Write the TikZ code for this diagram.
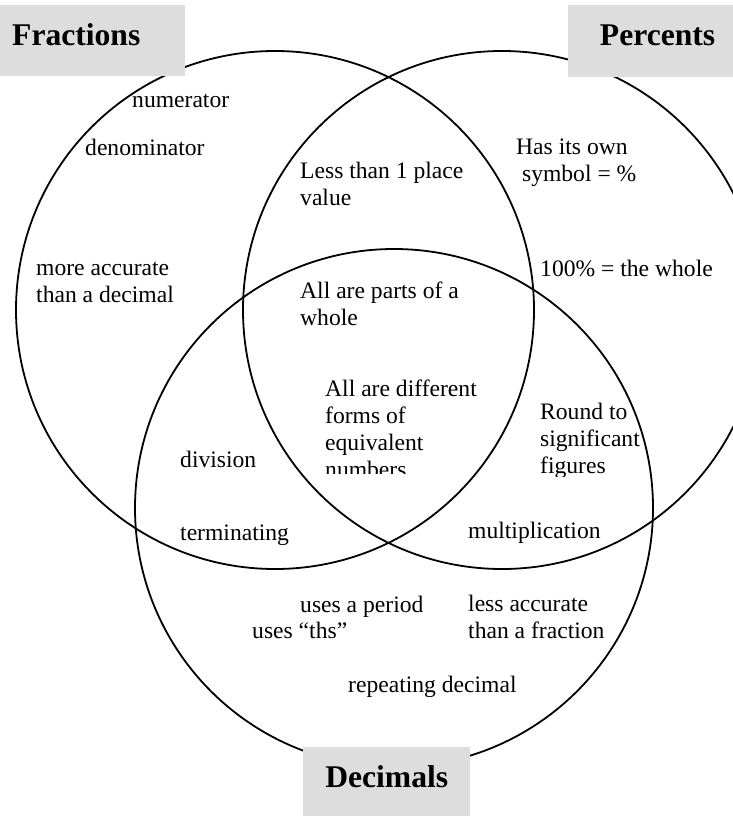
\documentclass[tikz,border=0pt]{standalone}
\usepackage{fontspec}
\setmainfont{Liberation Serif}
\usetikzlibrary{positioning}

\definecolor{tagfill}{HTML}{DDDDDD}

\begin{document}
\begin{tikzpicture}[
    x=1pt, y=-1pt,
    ring/.style={draw, circle, line width=1.8pt, minimum size=518pt, inner sep=0pt},
    tag/.style={fill=tagfill, anchor=north west, inner ysep=0pt,
        font=\fontsize{31.6}{36}\bfseries\selectfont},
    note/.style={anchor=base west, inner sep=0pt, align=left,
        font=\fontsize{23.6}{26.8}\selectfont}
]
\useasboundingbox (0,0) rectangle (733,816);
\clip (0,0) rectangle (733,816);

% the three sets
\node[ring] (frac) at (275,310) {};
\node[ring] (perc) at (502,310) {};
\node[ring] (dec)  at (394,508) {};

% titles
\node[tag, inner xsep=12pt, text width=161pt, align=left,
    text height=40pt, text depth=31pt] (fractag) at (0,5) {Fractions};
\node[tag, inner xsep=18pt, text width=129pt, align=right,
    text height=40pt, text depth=32pt] (perctag) at (568,5) {Percents};
\node[tag, inner xsep=20pt, text width=127pt, align=center,
    text height=40pt, text depth=34pt] (dectag) at (303,747) {Decimals};

% fractions only (base = last line)
\node[note] (numer)   at (132,107) {numerator};
\node[note] (denom)   at (85,155)  {denominator};
\node[note] (moreacc) at (36,302)  {more accurate\\than a decimal};

% percents only
\node[note] (ownsym)   at (516,181) {Has its own\\\hspace*{0.25em}symbol = \%};
\node[note] (whole100) at (540,276) {100\% = the whole};

% fractions and percents
\node[note] (lessplace) at (300,205) {Less than 1 place\\value};

% all three
\node[note] (allparts) at (300,325) {All are parts of a\\whole};
\begin{scope}
    \clip (0,0) rectangle (500,473);
    \node[note] (diffforms) at (325,477) {All are different\\forms of\\equivalent\\numbers};
\end{scope}
\begin{scope}
    \clip (500,0) rectangle (733,476);
    \node[note] (roundsig) at (540,473) {Round to\\significant\\figures};
\end{scope}

% fractions and decimals
\node[note] (division) at (180,467) {division};
\node[note] (termin)   at (180,540) {terminating};

% percents and decimals
\node[note] (multip) at (468,538) {multiplication};

% decimals only
\node[note] (period)  at (300,612) {uses a period};
\node[note] (lessacc) at (468,638) {less accurate\\than a fraction};
\node[note] (ths)     at (252,638) {uses “ths”};
\node[note] (repeat)  at (348,692) {repeating decimal};

\end{tikzpicture}
\end{document}
